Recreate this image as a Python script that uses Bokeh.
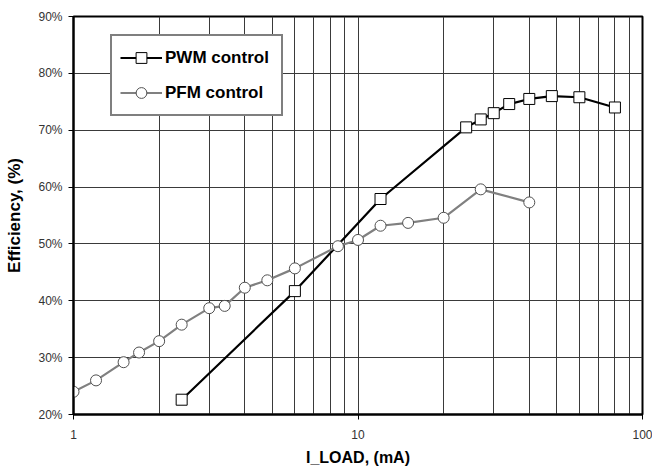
from bokeh.plotting import figure
from bokeh.models import (Range1d, FixedTicker, PrintfTickFormatter,
                          Legend, LegendItem)
from bokeh.embed import file_html
from bokeh.resources import INLINE

# ---- data ----
pwm_x = [2.4, 6, 12, 24, 27, 30, 34, 40, 48, 60, 80]
pwm_y = [22.6, 41.7, 57.9, 70.5, 71.9, 73.0, 74.6, 75.5, 76.0, 75.8, 74.0]
pfm_x = [1, 1.2, 1.5, 1.7, 2, 2.4, 3, 3.4, 4, 4.8, 6, 8.5, 10, 12, 15, 20, 27, 40]
pfm_y = [24.0, 26.0, 29.2, 30.9, 32.9, 35.8, 38.7, 39.1, 42.3, 43.6, 45.7, 49.6,
         50.7, 53.2, 53.7, 54.6, 59.6, 57.3]
x_major = [1, 10, 100]
x_major_labels = ["1", "10", "100"]
x_minor = [2, 3, 4, 5, 6, 7, 8, 9, 20, 30, 40, 50, 60, 70, 80, 90]
y_ticks = [20, 30, 40, 50, 60, 70, 80, 90]
series_names = ["PWM control", "PFM control"]
x_title = "I_LOAD, (mA)"
y_title = "Efficiency, (%)"

FONT = "Liberation Sans"
TICK_COLOR = "#333333"

p = figure(width=652, height=470, x_axis_type="log",
           x_range=Range1d(1, 100), y_range=Range1d(20, 90),
           output_backend="svg", toolbar_location=None,
           min_border_left=73, min_border_right=10, min_border_top=16, min_border_bottom=56)

p.outline_line_color = "black"
p.outline_line_width = 2

# axes
p.xaxis.ticker = FixedTicker(ticks=x_major, minor_ticks=x_minor)
p.xaxis.major_label_overrides = {t: lab for t, lab in zip(x_major, x_major_labels)}
p.yaxis.ticker = FixedTicker(ticks=y_ticks)
p.yaxis.formatter = PrintfTickFormatter(format="%d%%")

for ax in (p.xaxis, p.yaxis):
    ax.axis_line_color = "black"
    ax.axis_line_width = 2
    ax.major_tick_line_color = "black"
    ax.major_tick_line_width = 1
    ax.major_tick_out = 5
    ax.major_tick_in = 0
    ax.minor_tick_line_color = None
    ax.major_label_text_font = FONT
    ax.major_label_text_font_size = "12px"
    ax.major_label_text_color = TICK_COLOR
    ax.axis_label_text_font = FONT
    ax.axis_label_text_font_style = "bold"
    ax.axis_label_text_color = "black"

p.xaxis.axis_label = x_title
p.yaxis.axis_label = y_title
p.xaxis.axis_label_text_font_size = "16px"
p.yaxis.axis_label_text_font_size = "17px"
p.xaxis.major_label_standoff = 10
p.xaxis.axis_label_standoff = 7
p.yaxis.major_label_standoff = 6
p.yaxis.axis_label_standoff = 11

# grid
p.xgrid.ticker = FixedTicker(ticks=x_major, minor_ticks=x_minor)
p.xgrid.grid_line_color = "#3a3a3a"
p.xgrid.grid_line_width = 1
p.xgrid.minor_grid_line_color = "#3a3a3a"
p.xgrid.minor_grid_line_width = 1
p.ygrid.grid_line_color = "#3a3a3a"
p.ygrid.grid_line_width = 1

# series
l1 = p.line(pwm_x, pwm_y, line_color="black", line_width=2.2)
s1 = p.scatter(pwm_x, pwm_y, marker="square", size=11, fill_color="white",
               line_color="black", line_width=1)
l2 = p.line(pfm_x, pfm_y, line_color="#808080", line_width=2.2)
s2 = p.scatter(pfm_x, pfm_y, marker="circle", size=11, fill_color="white",
               line_color="#505050", line_width=1)

legend = Legend(items=[LegendItem(label=series_names[0], renderers=[l1, s1]),
                       LegendItem(label=series_names[1], renderers=[l2, s2])],
                location=(37, 298))
legend.label_text_font = FONT
legend.label_text_font_style = "bold"
legend.label_text_font_size = "17px"
legend.label_text_color = "black"
legend.border_line_color = "black"
legend.border_line_width = 2
legend.background_fill_color = "white"
legend.background_fill_alpha = 1
legend.glyph_width = 42
legend.glyph_height = 27
legend.label_height = 27
legend.label_width = 108
legend.label_standoff = 3
legend.padding = 8
legend.spacing = 8
legend.margin = 0
p.add_layout(legend, "center")

open("out.html", "w").write(file_html(p, INLINE))
